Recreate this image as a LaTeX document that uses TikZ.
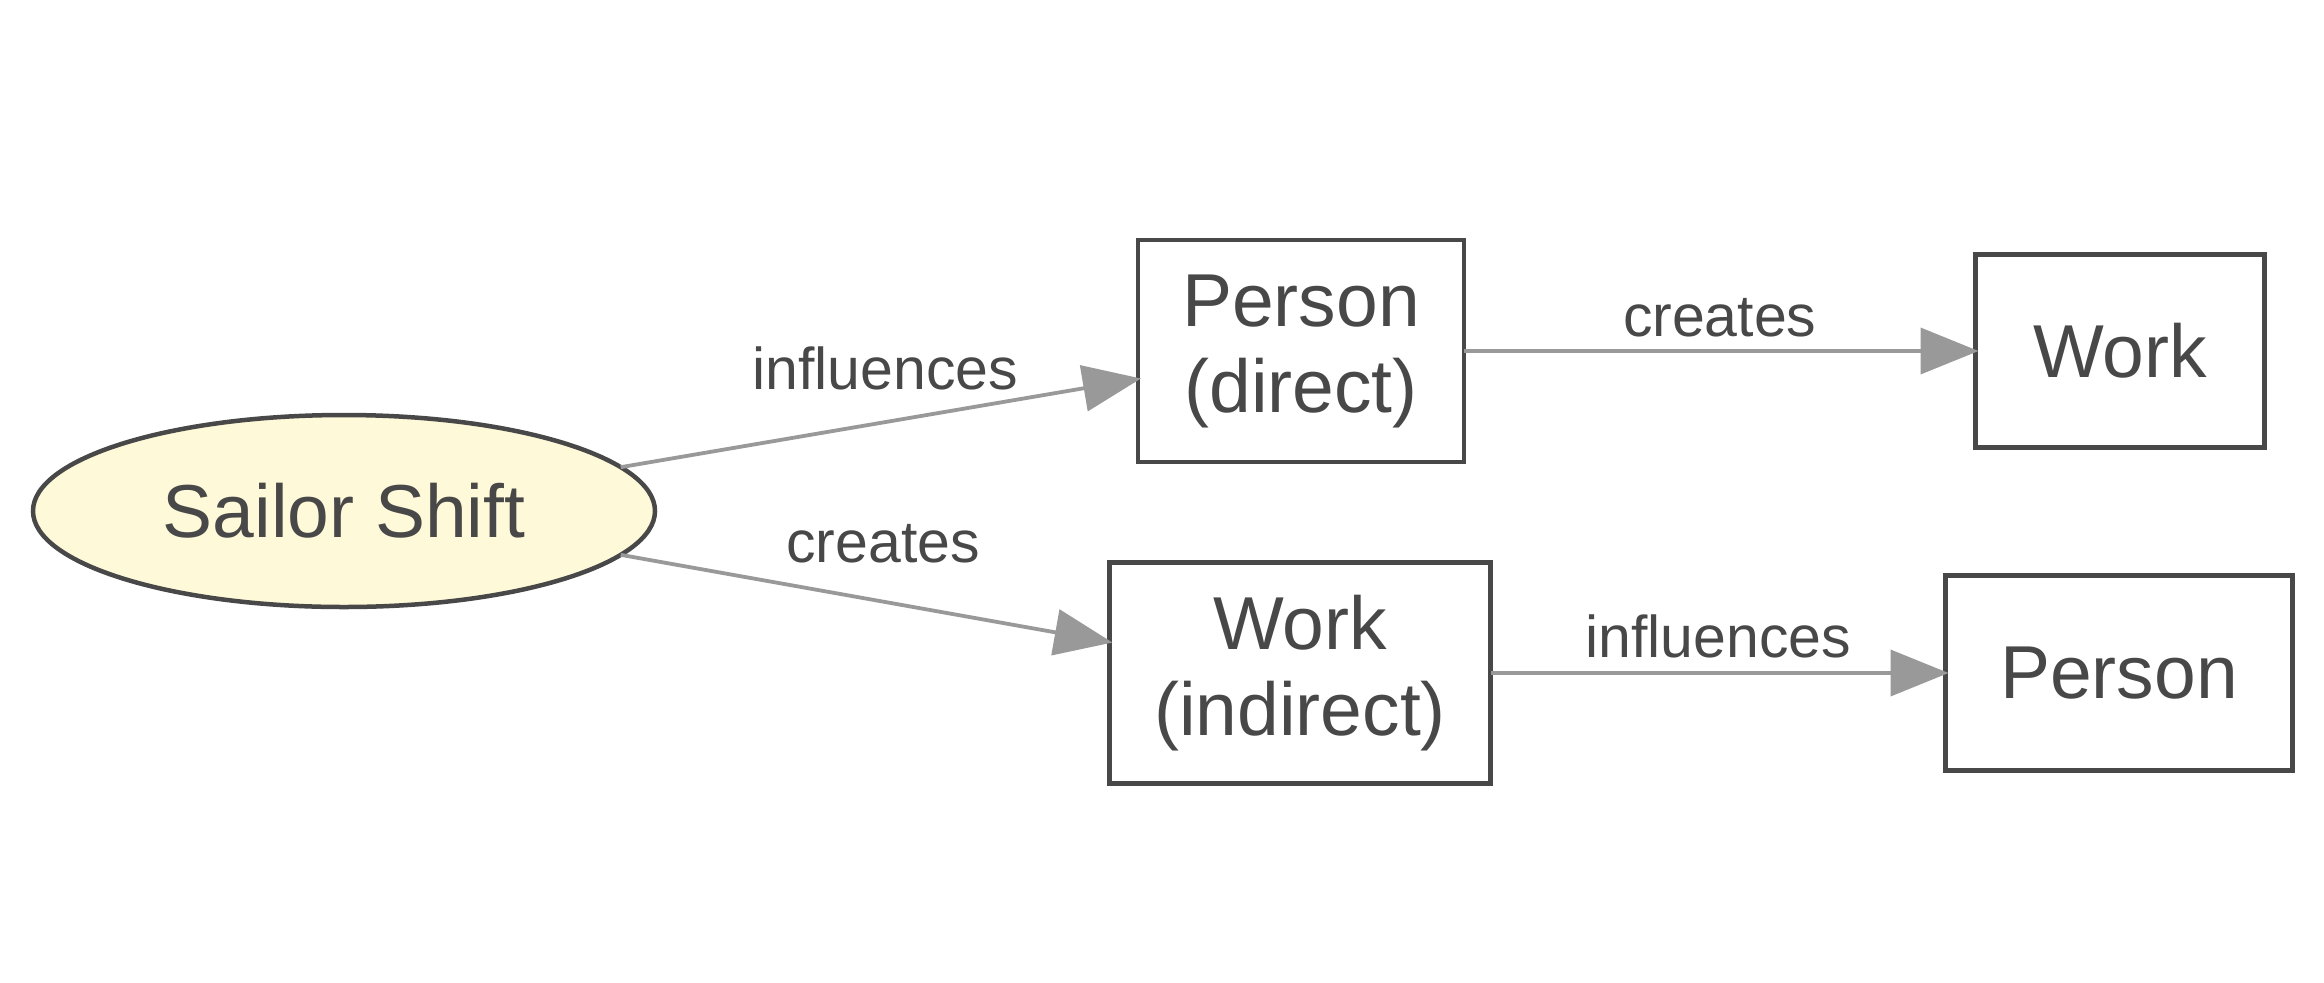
\documentclass[tikz,border=0pt]{standalone}
\usepackage{fontspec}
\setmainfont{Liberation Sans}
\usetikzlibrary{shapes.geometric,arrows.meta}
\definecolor{ink}{HTML}{484848}
\definecolor{edgegray}{HTML}{999999}
\definecolor{lemon}{HTML}{FEF9D8}
\tikzset{
  box/.style={draw=ink, line width=4.5bp, rectangle, text=ink, align=center,
    font=\fontsize{75bp}{86bp}\selectfont, inner sep=0pt, outer sep=0pt},
  oval/.style={draw=ink, line width=4.5bp, ellipse, fill=lemon, text=ink,
    font=\fontsize{75bp}{86bp}\selectfont, inner sep=0pt, outer sep=0pt,
    minimum width=622bp, minimum height=192bp},
  conn/.style={draw=edgegray, line width=3.8bp,
    -{Triangle[length=58bp,width=46bp]}, fill=edgegray, shorten >=-3bp},
  lbl/.style={text=ink, font=\fontsize{59bp}{70bp}\selectfont, inner sep=0pt, anchor=base}
}
\begin{document}
\begin{tikzpicture}[x=1bp,y=-1bp]
\useasboundingbox (0,0) rectangle (2324,982);
\node[oval] (s) at (344,511) {Sailor Shift};
\node[box, minimum width=326bp, minimum height=222bp] (pd) at (1301,351) {Person\\(direct)};
\node[box, minimum width=289bp, minimum height=193bp] (w1) at (2120,351) {Work};
\node[box, minimum width=381bp, minimum height=221bp] (wi) at (1300,673) {Work\\(indirect)};
\node[box, minimum width=347bp, minimum height=195bp] (p2) at (2119,673) {Person};
\draw[conn] (s.9.5) -- ([yshift=-28bp]pd.west)
  node[lbl, pos=0.5, yshift=34bp, xshift=6bp] (l1) {influences};
\draw[conn] (s.-9.9) -- ([yshift=31bp]wi.west)
  node[lbl, pos=0.5, yshift=36bp, xshift=18bp] (l2) {creates};
\draw[conn] (pd.east) -- (w1.west)
  node[lbl, pos=0.5, yshift=15bp] (l3) {creates};
\draw[conn] (wi.east) -- (p2.west)
  node[lbl, pos=0.5, yshift=16bp] (l4) {influences};
\end{tikzpicture}
\end{document}
